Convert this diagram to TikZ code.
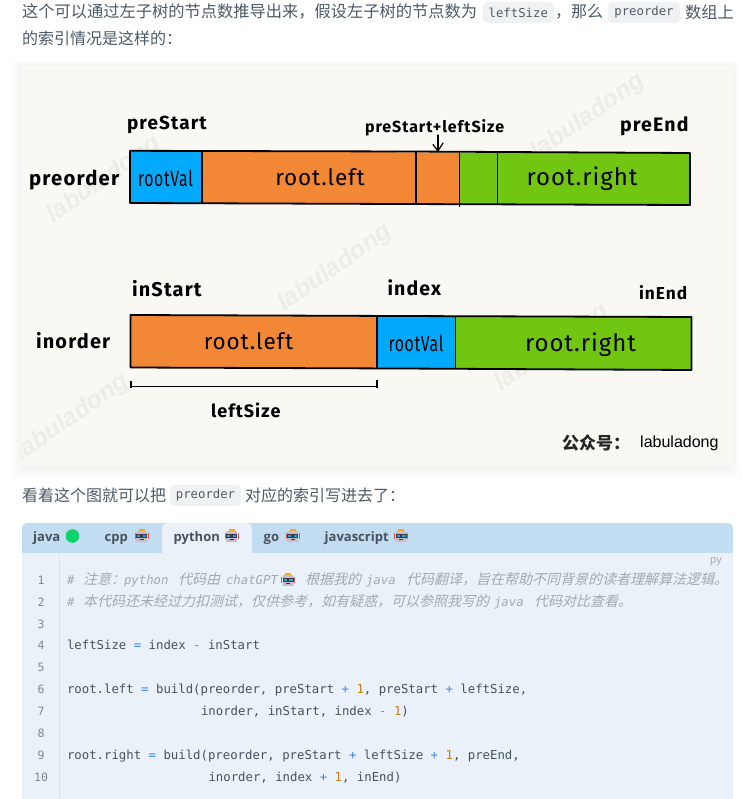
\documentclass[tikz,border=0pt]{standalone}
\usepackage{fontspec}
\setmainfont{Liberation Sans}
\newfontfamily\cjk{Noto Sans CJK SC}
\newfontfamily\cjkslant[FakeSlant=0.25]{Noto Sans CJK SC}
\newfontfamily\handb[LetterSpace=6]{Fira Sans}
\newfontfamily\hands[LetterSpace=4]{Fira Sans}
\newfontfamily\mono{DejaVu Sans Mono}
\newfontfamily\uisans{Open Sans}
\definecolor{txt}{HTML}{4C5A68}
\definecolor{chip}{HTML}{F0F1F2}
\definecolor{chiptxt}{HTML}{4F5B66}
\definecolor{paper}{HTML}{FAF8F3}
\definecolor{tabbar}{HTML}{C2DCF2}
\definecolor{codebg}{HTML}{EAF1F9}
\definecolor{gutter}{HTML}{D6E4F1}
\definecolor{lnumc}{HTML}{7F8A94}
\definecolor{cmt}{HTML}{A2A9B1}
\definecolor{codetxt}{HTML}{47525D}
\definecolor{op}{HTML}{3F86F0}
\definecolor{num}{HTML}{C47E1C}
\definecolor{bblue}{HTML}{03A9FB}
\definecolor{borange}{HTML}{F28836}
\definecolor{bgreen}{HTML}{71C612}
\definecolor{dotgreen}{HTML}{0BD46A}
\definecolor{rhead}{HTML}{C8BCC8}
\definecolor{rear}{HTML}{E05A5A}
\definecolor{rtop}{HTML}{F5A623}
\definecolor{rvisor}{HTML}{3A3A48}
\definecolor{reye}{HTML}{1AA7D8}
\newcommand{\opc}[1]{\textcolor{op}{#1}}
\newcommand{\numc}[1]{\textcolor{num}{#1}}
\tikzset{
  x=1pt,y=-1pt,
  tx/.style={inner sep=0pt,outer sep=0pt,anchor=west,text=txt,font=\cjk\fontsize{16}{16}\selectfont},
  chipbox/.style={fill=chip,rounded corners=4pt,draw=none},
  chiptext/.style={inner sep=0pt,text=chiptxt,font=\mono\fontsize{12.3}{14}\selectfont},
  lab/.style={inner sep=0pt,outer sep=0pt,anchor=west,text=black,font=\handb\bfseries\fontsize{#1}{#1}\selectfont},
  seglab/.style={inner sep=0pt,outer sep=0pt,text=black,font=\hands\fontsize{#1}{#1}\selectfont},
  barline/.style={draw=black,line width=1.8pt,line join=round},
  divline/.style={draw=black,line width=1.5pt},
  wmark/.style={inner sep=0pt,rotate=35,text=black!55,opacity=0.09,font=\itshape\bfseries\fontsize{25}{25}\selectfont},
  tablab/.style={inner sep=0pt,anchor=base west,text=codetxt,font=\uisans\bfseries\fontsize{13}{13}\selectfont},
  lnum/.style={inner sep=0pt,anchor=center,text=lnumc,font=\mono\fontsize{11.5}{12}\selectfont},
  codeline/.style={inner sep=0pt,outer sep=0pt,anchor=base west,text=codetxt,font=\mono\fontsize{12.33}{14}\selectfont},
  cmtlat/.style={inner sep=0pt,outer sep=0pt,anchor=base west,text=cmt,font=\mono\itshape\fontsize{12.33}{14}\selectfont},
  cmtcjk/.style={inner sep=0pt,outer sep=0pt,anchor=base west,text=cmt,font=\cjkslant\fontsize{14}{14}\selectfont},
  pics/robot/.style={code={
    \fill[rear] (-7,-3.5) rectangle (-6,3);
    \fill[rear] (6,-3.5) rectangle (7,3);
    \fill[rtop] (-3,-7) rectangle (3,-5);
    \fill[rhead,rounded corners=1pt] (-5.5,-5) rectangle (5.5,6);
    \fill[rvisor] (-5.5,-2.2) rectangle (5.5,1.5);
    \fill[reye] (-4.5,-1.4) rectangle (-1.2,.7);
    \fill[reye] (1.2,-1.4) rectangle (4.5,.7);
    \fill[rvisor] (-2,3) rectangle (2,4.2);
  }}
}
\begin{document}
\begin{tikzpicture}
\useasboundingbox (0,0) rectangle (741,799);
\fill[white] (0,0) rectangle (741,799);

% intro text
\node[tx,font=\cjk\fontsize{16.25}{16}\selectfont] (t1) at (22,12) {这个可以通过左子树的节点数推导出来，假设左子树的节点数为};
\fill[chipbox] (483,2) rectangle (553.5,23);
\node[chiptext] (c1) at (518.3,12.5) {leftSize};
\node[tx] (t2) at (555,12) {，那么};
\fill[chipbox] (608,2) rectangle (680,23);
\node[chiptext] (c2) at (644,12.5) {preorder};
\node[tx,font=\cjk\fontsize{16.25}{16}\selectfont] (t3) at (685,12) {数组上};
\node[tx] (t4) at (22,38) {的索引情况是这样的：};

% card
\foreach \i in {1,...,12}{
  \fill[black,opacity=0.004,rounded corners=6pt] (22-\i,65-\i*.3) rectangle (733+\i*.5,465+\i*1.3);
}
\fill[paper,rounded corners=2pt] (22,65) rectangle (733,465);
\begin{scope}
\clip (22,65) rectangle (733,465);
\foreach \wx/\wy [count=\wi] in {104/180,588/117,335/268,552/348,72/418}{
  \node[wmark] (wm\wi) at (\wx,\wy) {labuladong};
}
\end{scope}

% preorder bar
\fill[bblue] (130,151) -- (202,151.5) -- (202,203.5) -- (130,203) -- cycle;
\fill[borange] (202,151.5) -- (459.5,152.5) -- (459.5,204.5) -- (202,203.5) -- cycle;
\fill[bgreen] (459.5,152.5) -- (690,153) -- (690,205) -- (459.5,204.5) -- cycle;
\draw[barline] (130,150.8) -- (410,151.5) -- (690,153) -- (690,205) -- (400,204) -- (130,203) -- cycle;
\draw[divline] (202,151.5) -- (202,203.5);
\draw[divline] (416,152) -- (416,205.5);
\draw[divline] (459.7,152) -- (459.7,207.5);
\draw[divline] (497.6,152.5) -- (497.6,205);

% inorder bar
\fill[borange] (130.5,315) -- (377,316) -- (377,368.5) -- (130.5,367.5) -- cycle;
\fill[bblue] (377,316) -- (455.6,316.5) -- (455.6,369) -- (377,368.5) -- cycle;
\fill[bgreen] (455.6,316.5) -- (691.5,317) -- (691.5,370) -- (455.6,369) -- cycle;
\draw[barline] (130.5,315) -- (400,316) -- (691.5,317) -- (691.5,370) -- (400,368.5) -- (130.5,367.5) -- cycle;
\draw[divline] (377,316) -- (377,368.5);
\draw[divline] (455.6,316.5) -- (455.6,369);

% labels
\node[lab=18.9] (preStartL) at (127,125) {preStart};
\node[lab=16] (psls) at (365,127.5) {preStart+leftSize};
\node[lab=19.5] (preEndL) at (620,126) {preEnd};
\node[lab=20.3] (preorderL) at (29,180.5) {preorder};
\node[lab=19.9] (inStartL) at (132,289) {inStart};
\node[lab=19.5] (indexL) at (387.5,288) {index};
\node[lab=17.3] (inEndL) at (639,293) {inEnd};
\node[lab=19.9] (inorderL) at (36,340.5) {inorder};
\node[lab=18] (leftSizeL) at (211,410) {leftSize};

\node[seglab=22.5] (rl1) at (320,177.5) {root.left};
\node[seglab=24] (rr1) at (582,178.5) {root.right};
\node[seglab=22,xscale=.72] (rv1) at (165.5,178) {rootVal};
\node[seglab=22.5] (rl2) at (248.5,341.5) {root.left};
\node[seglab=24] (rr2) at (580.5,344.5) {root.right};
\node[seglab=22,xscale=.72] (rv2) at (416,343) {rootVal};

% arrow marker
\coordinate (arrowTop) at (438,135);
\coordinate (arrowTip) at (438,151);
\draw[black,line width=1.2pt,line cap=round] (arrowTop) -- (arrowTip);
\draw[black,line width=1.2pt,line cap=round,line join=round] (433,144.5) -- (arrowTip) -- (443,143);

% leftSize bracket
\coordinate (brL) at (131,386.5);
\coordinate (brR) at (377,386.5);
\draw[black,line width=1.3pt] (brL) -- (brR);
\draw[black,line width=1.3pt] (131,381) -- (131,387.5);
\draw[black,line width=1.3pt] (377,380) -- (377,387.5);

% signature
\node[inner sep=0pt,anchor=west,text=black!85,font=\cjk\bfseries\fontsize{17}{17}\selectfont] (gzh) at (562,443) {公众号：};
\node[inner sep=0pt,anchor=west,text=black,font=\fontsize{16}{16}\selectfont] (gzn) at (640,443) {labuladong};

% second paragraph
\node[tx] (t5) at (22,495) {看着这个图就可以把};
\fill[chipbox] (170,485) rectangle (241,506);
\node[chiptext] (c3) at (205.5,495.5) {preorder};
\node[tx] (t6) at (245,495) {对应的索引写进去了：};

% code block
\fill[tabbar,rounded corners=5pt] (22,523) rectangle (733,560);
\fill[codebg] (22,553) rectangle (733,799);
\fill[codebg,rounded corners=5pt] (162,523) rectangle (252,560);
\fill[tabbar,rounded corners=4pt] (152,540) rectangle (162,553);
\fill[tabbar,rounded corners=4pt] (252,540) rectangle (262,553);
\draw[gutter,line width=1pt] (59.5,553) -- (59.5,799);

\node[tablab] (tabjava) at (33,541) {java};
\fill[dotgreen] (72.5,536) circle (6.8);
\node[tablab] (tabcpp) at (104.5,541) {cpp};
\pic at (141.5,536) {robot};
\node[tablab] (tabpy) at (173.5,541) {python};
\pic at (231.5,536) {robot};
\node[tablab] (tabgo) at (263.5,541) {go};
\pic at (292.5,536) {robot};
\node[tablab] (tabjs) at (324.5,541) {javascript};
\pic at (401,536) {robot};
\node[inner sep=0pt,text=cmt,font=\fontsize{11}{11}\selectfont] (pylab) at (716,562) {py};

% line numbers
\foreach \n/\yy in {1/580,2/602,3/624,4/645.5,5/667.5,6/689,7/711,8/733.5,9/755,10/777}{
  \node[lnum] (ln\n) at (41,\yy) {\n};
}

% comments
\node[cmtlat] (cm1a) at (67,584.5) {\#};
\node[cmtcjk] (cm1b) at (83,584.5) {注意：};
\node[cmtlat] (cm1c) at (124,584.5) {python};
\node[cmtcjk] (cm1d) at (178,584.5) {代码由};
\node[cmtlat] (cm1e) at (226,584.5) {chatGPT};
\pic at (288,580) {robot};
\node[cmtcjk] (cm1f) at (305,584.5) {根据我的};
\node[cmtlat] (cm1g) at (366,584.5) {java};
\node[cmtcjk] (cm1h) at (406,584.5) {代码翻译，旨在帮助不同背景的读者理解算法逻辑。};
\node[cmtlat] (cm2a) at (67,606.5) {\#};
\node[cmtcjk] (cm2b) at (83,606.5) {本代码还未经过力扣测试，仅供参考，如有疑惑，可以参照我写的};
\node[cmtlat] (cm2c) at (494,606.5) {java};
\node[cmtcjk] (cm2d) at (534,606.5) {代码对比查看。};

% code
\node[codeline] (l4) at (67,649.5) {leftSize~\opc{=}~index~\opc{-}~inStart};
\node[codeline] (l6) at (67,693) {root.left~\opc{=}~build(preorder,~preStart~\opc{+}~\numc{1},~preStart~\opc{+}~leftSize,};
\node[codeline] (l7) at (201,715) {inorder,~inStart,~index~\opc{-}~\numc{1})};
\node[codeline] (l9) at (67,759) {root.right~\opc{=}~build(preorder,~preStart~\opc{+}~leftSize~\opc{+}~\numc{1},~preEnd,};
\node[codeline] (l10) at (208.5,781) {inorder,~index~\opc{+}~\numc{1},~inEnd)};
\end{tikzpicture}
\end{document}
